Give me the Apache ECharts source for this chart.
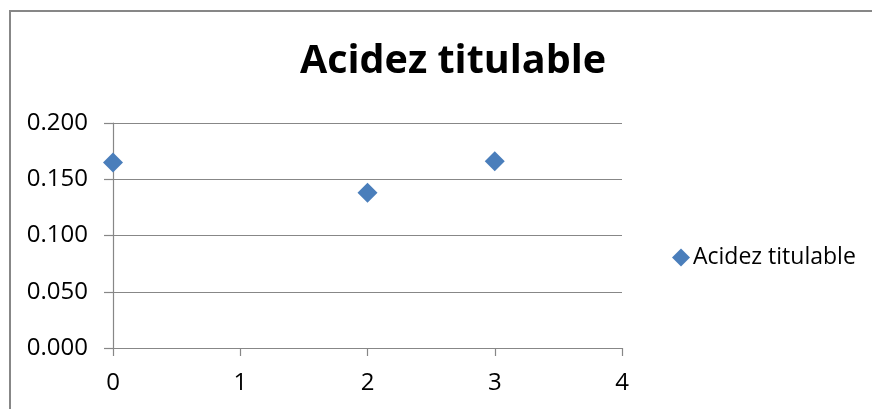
<!DOCTYPE html>
<html>
<head>
<meta charset="utf-8">
<script src="https://cdn.jsdelivr.net/npm/echarts@6/dist/echarts.min.js"></script>
<style>
html,body{margin:0;padding:0;background:#fff;}
#chart{width:872px;height:409px;}
</style>
</head>
<body>
<div id="chart"></div>
<script>
var titleText = 'Acidez titulable';
var seriesName = 'Acidez titulable';
var xValues = [0, 2, 3];
var yValues = [0.165, 0.138, 0.166];

var points = xValues.map(function (x, i) { return [x, yValues[i]]; });
var FONT = '"Open Sans"';

var chart = echarts.init(document.getElementById('chart'));
chart.setOption({
  animation: false,
  backgroundColor: '#ffffff',
  graphic: [{
    type: 'polyline',
    shape: { points: [[10, 420], [10, 11], [880, 11]] },
    style: { fill: null, stroke: '#878787', lineWidth: 2 },
    silent: true
  }],
  title: {
    text: titleText,
    left: 448,
    top: 37,
    textAlign: 'center',
    textStyle: { fontFamily: FONT, fontWeight: 'bold', fontSize: 39.5, color: '#000' }
  },
  legend: {
    left: 667,
    top: 241,
    icon: 'diamond',
    itemWidth: 18,
    itemHeight: 18,
    itemGap: 6,
    textStyle: { fontFamily: FONT, fontSize: 23, color: '#000', padding: [0, 0, 0, -2] },
    data: [seriesName]
  },
  grid: { left: 113, right: 250, top: 123, bottom: 61, containLabel: false },
  xAxis: {
    type: 'value',
    min: 0, max: 4, interval: 1,
    axisLine: { show: true, lineStyle: { color: '#878787', width: 1.2 } },
    axisTick: { show: true, inside: false, length: 8, lineStyle: { color: '#878787', width: 1.2 } },
    axisLabel: { fontFamily: FONT, fontSize: 24, color: '#000', margin: 23 },
    splitLine: { show: false }
  },
  yAxis: {
    type: 'value',
    min: 0, max: 0.2, interval: 0.05,
    axisLine: { show: true, lineStyle: { color: '#878787', width: 1.2 } },
    axisTick: { show: true, inside: false, length: 9, lineStyle: { color: '#878787', width: 1.2 } },
    axisLabel: {
      fontFamily: FONT, fontSize: 24, color: '#000', margin: 25,
      formatter: function (v) { return v.toFixed(3); }
    },
    splitLine: { show: true, lineStyle: { color: '#878787', width: 1.2 } }
  },
  series: [{
    name: seriesName,
    type: 'scatter',
    symbol: 'diamond',
    symbolSize: 20,
    itemStyle: { color: '#4a7ebb', opacity: 1 },
    data: points
  }]
});
</script>
</body>
</html>
